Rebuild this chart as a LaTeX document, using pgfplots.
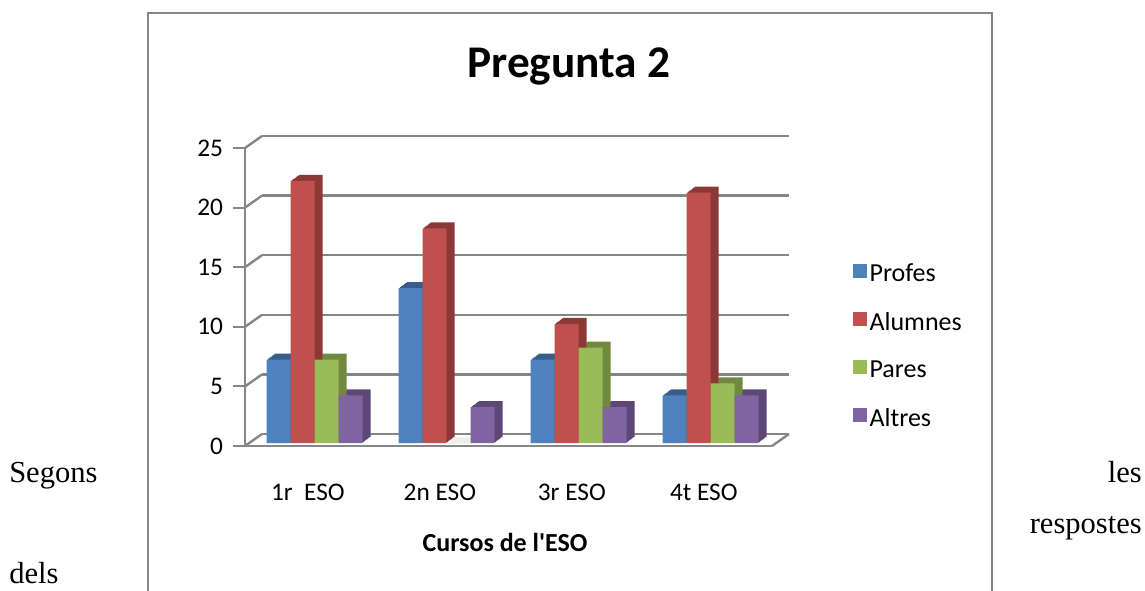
\documentclass[border=0pt]{standalone}
\usepackage{pgfplots}
\pgfplotsset{compat=1.18}
\usepackage{pgfplotstable}
\usepackage{fontspec}
\setmainfont{Carlito}[Ligatures=TeXOff]
\newfontfamily\timesfont{Liberation Serif}
\definecolor{gridgray}{HTML}{868686}
\definecolor{cblue}{HTML}{4F81BD}
\definecolor{cred}{HTML}{C0504D}
\definecolor{cgreen}{HTML}{9BBB59}
\definecolor{cpurple}{HTML}{8064A2}
\definecolor{dblue}{HTML}{385D8A}
\definecolor{dred}{HTML}{8C3836}
\definecolor{dgreen}{HTML}{71893F}
\definecolor{dpurple}{HTML}{5C4776}

\pgfplotstableread{
x profes alumnes pares altres
0 7 22 7 4
1 13 18 0 3
2 7 10 8 3
3 4 21 5 4
}\data

\begin{document}
\begin{tikzpicture}
\begin{scope}[x=0.75pt,y=0.75pt]
\useasboundingbox (0,0) rectangle (1145,590);
\draw[gridgray, line width=1.5pt] (148,-10) -- (148,577) -- (992,577) -- (992,-10);
\node[anchor=base, font=\fontsize{34}{40}\selectfont\bfseries] at (569,512) {Pregunta 2};
\node[anchor=base, font=\fontsize{19.5}{22}\selectfont\bfseries] at (505,39) {Cursos de l'ESO};
\begin{scope}[font=\timesfont\fontsize{22.9}{27}\selectfont]
\node[anchor=base west, inner sep=0pt] at (9,108) {Segons};
\node[anchor=base east, inner sep=0pt] at (1142,108) {les};
\node[anchor=base east, inner sep=0pt] at (1142,57) {respostes};
\node[anchor=base west, inner sep=0pt] at (9,7) {dels};
\end{scope}
\end{scope}
\begin{axis}[
  at={(183.75pt,108pt)}, anchor=south west,
  scale only axis, width=395.25pt, height=223.5pt,
  xmin=-0.527, xmax=3.466, ymin=0, ymax=25,
  axis lines*=left, axis line style={gridgray, line width=1.6pt, -},
  xtick=data, xticklabels={1r\ \ ESO, 2n ESO, 3r ESO, 4t ESO},
  x tick style={draw=none},
  ytick={0,5,...,25},
  y tick style={gridgray, line width=1.6pt},
  tick align=outside, major tick length=9pt,
  ymajorgrids,
  major grid style={gridgray, line width=1.8pt, xshift=12.75pt, yshift=9pt},
  tick label style={font=\fontsize{19}{21}\selectfont},
  /pgf/number format/assume math mode=true,
  yticklabel style={xshift=-4pt},
  xticklabel style={yshift=-16pt, xshift=-5pt},
  legend style={draw=none, fill=none, at={(1.153,0.621)}, anchor=north west,
    font=\fontsize{19.5}{21}\selectfont, row sep=17.5pt, inner sep=0pt},
  legend cell align=left,
  legend image code/.code={\fill[#1] (-2pt,-5.25pt) rectangle (8.5pt,5.25pt);},
  clip=false,
]
\pgfplotsinvokeforeach{0,5,10,15,20,25}{
  \draw[gridgray, line width=1.8pt] (axis cs:-0.527,#1) -- ++(12.75pt,9pt);
}
\draw[gridgray, line width=1.8pt] (axis cs:3.466,0) -- ++(12.75pt,9pt);
\pgfplotsinvokeforeach{1,2,3,4,5,6}{
  \addplot[ybar, bar width=18pt, bar shift=-27pt, fill=dblue, draw=none, forget plot, xshift=#1pt, yshift={0.75pt*#1+2.25pt}] table[x=x,y=profes]{\data};
  \addplot[ybar, bar width=18pt, bar shift=-9pt, fill=dred, draw=none, forget plot, xshift=#1pt, yshift={0.75pt*#1+2.25pt}] table[x=x,y=alumnes]{\data};
  \addplot[ybar, bar width=18pt, bar shift=9pt, fill=dgreen, draw=none, forget plot, xshift=#1pt, yshift={0.75pt*#1+2.25pt}] table[x=x,y=pares]{\data};
  \addplot[ybar, bar width=18pt, bar shift=27pt, fill=dpurple, draw=none, forget plot, xshift=#1pt, yshift={0.75pt*#1+2.25pt}] table[x=x,y=altres]{\data};
}
\addplot[ybar, bar width=18pt, bar shift=-27pt, fill=cblue, draw=none, yshift=2.25pt] table[x=x,y=profes]{\data};
\addplot[ybar, bar width=18pt, bar shift=-9pt, fill=cred, draw=none, yshift=2.25pt] table[x=x,y=alumnes]{\data};
\addplot[ybar, bar width=18pt, bar shift=9pt, fill=cgreen, draw=none, yshift=2.25pt] table[x=x,y=pares]{\data};
\addplot[ybar, bar width=18pt, bar shift=27pt, fill=cpurple, draw=none, yshift=2.25pt] table[x=x,y=altres]{\data};
\legend{Profes, Alumnes, Pares, Altres}
\end{axis}
\end{tikzpicture}
\end{document}
